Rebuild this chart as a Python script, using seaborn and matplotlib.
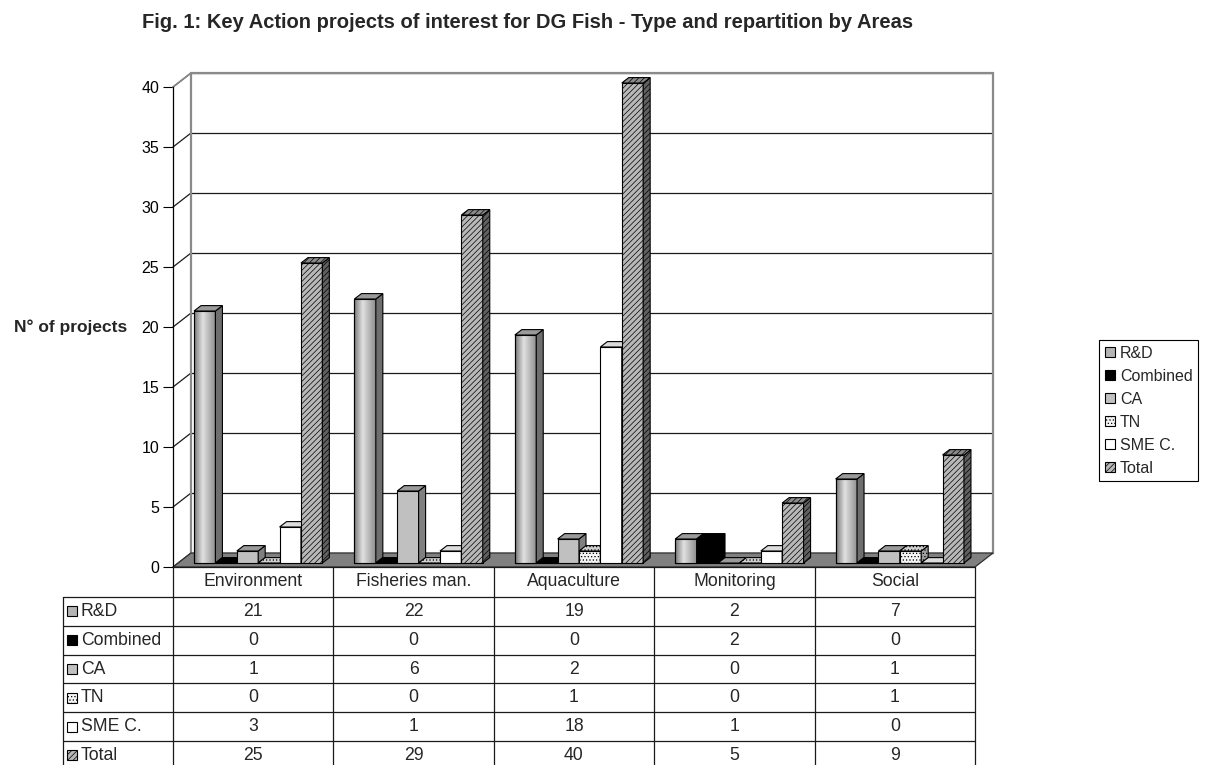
import numpy as np
import pandas as pd
import matplotlib
matplotlib.use('Agg')
import matplotlib.pyplot as plt
from matplotlib.patches import Polygon, Rectangle, Patch
from matplotlib.lines import Line2D
from matplotlib.ticker import MultipleLocator
import seaborn as sns

# ----- DATA -----
areas = ['Environment', 'Fisheries man.', 'Aquaculture', 'Monitoring', 'Social']
types = ['R&D', 'Combined', 'CA', 'TN', 'SME C.', 'Total']
rd = [21, 22, 19, 2, 7]
combined = [0, 0, 0, 2, 0]
ca = [1, 6, 2, 0, 1]
tn = [0, 0, 1, 0, 1]
sme = [3, 1, 18, 1, 0]
total = [25, 29, 40, 5, 9]
series = [rd, combined, ca, tn, sme, total]

TITLE = 'Fig. 1: Key Action projects of interest for DG Fish - Type and repartition by Areas'
YLABEL = 'N° of projects'

# ----- STYLE -----
face = {'R&D': '#b4b4b4', 'Combined': '#000000', 'CA': '#c0c0c0',
        'TN': '#f4f4f4', 'SME C.': '#ffffff', 'Total': '#b8b8b8'}
top_col = {'R&D': '#9a9a9a', 'Combined': '#000000', 'CA': '#9a9a9a',
           'TN': '#d0d0d0', 'SME C.': '#dcdcdc', 'Total': '#8a8a8a'}
side_col = {'R&D': '#6e6e6e', 'Combined': '#000000', 'CA': '#808080',
            'TN': '#a0a0a0', 'SME C.': '#a8a8a8', 'Total': '#606060'}
hatch = {'R&D': None, 'Combined': None, 'CA': None,
         'TN': '.....', 'SME C.': None, 'Total': '//////'}

sns.set_style('white')
plt.rcParams['font.family'] = ['Liberation Sans', 'DejaVu Sans']
plt.rcParams['hatch.linewidth'] = 0.5
plt.rcParams['hatch.color'] = '#202020'

W, H = 1217, 765
def fx(px):
    return px / W
def fy(py):
    return 1 - py / H

df = pd.DataFrame({
    'area': areas * len(types),
    'type': [t for t in types for _ in areas],
    'value': [v for s in series for v in s],
})

fig = plt.figure(figsize=(W / 100, H / 100), dpi=100)
X0, X1, Y0, Y40 = 173, 975, 567, 87
ax = fig.add_axes([fx(X0), fy(Y0), (X1 - X0) / W, (Y0 - Y40) / H])
ax.set_facecolor('none')

sns.barplot(data=df, x='area', y='value', hue='type', order=areas, hue_order=types,
            palette=face, saturation=1, width=0.8, edgecolor='black', linewidth=0.8,
            legend=False, ax=ax)

# pixel sizes -> data units
ppx = (X1 - X0) / 5.0
ppy = (Y0 - Y40) / 40.0
dx, dy = 18 / ppx, 14 / ppy          # depth of the walls
sx, sy = 5 / ppx, 4 / ppy            # bar front offset
bdx, bdy = 7 / ppx, 5.4 / ppy        # bar depth

# ----- WALLS / FLOOR -----
ax.set_xlim(-0.5, 4.5)
ax.set_ylim(0, 40)
ax.yaxis.set_major_locator(MultipleLocator(5))
for t in ax.get_yticks():
    if t < 0 or t > 40:
        continue
    ax.plot([-0.5 + dx, 4.5 + dx], [t + dy, t + dy], color='#1a1a1a', lw=0.9,
            clip_on=False, zorder=1)
    ax.plot([-0.5, -0.5 + dx], [t, t + dy], color='#1a1a1a', lw=0.9,
            clip_on=False, zorder=1)
ax.plot([-0.5 + dx, 4.5 + dx], [40 + dy, 40 + dy], color='#8a8a8a', lw=1.6, clip_on=False, zorder=1.1)
ax.plot([-0.5 + dx, -0.5 + dx], [dy, 40 + dy], color='#8a8a8a', lw=1.6, clip_on=False, zorder=1.1)
ax.plot([4.5 + dx, 4.5 + dx], [dy, 40 + dy], color='#8a8a8a', lw=1.6, clip_on=False, zorder=1.1)
ax.plot([-0.5, -0.5 + dx], [40, 40 + dy], color='#8a8a8a', lw=1.2, clip_on=False, zorder=1.1)
ax.add_patch(Polygon([(-0.5, 0), (4.5, 0), (4.5 + dx, dy), (-0.5 + dx, dy)],
                     closed=True, facecolor='#808080', edgecolor='#303030', lw=0.9,
                     clip_on=False, zorder=1.5))

# ----- 3D BARS -----
grad = np.interp(np.linspace(0, 1, 64), [0, 0.12, 0.4, 1], [0.42, 0.6, 0.88, 0.55])[None, :]
for hi, cont in enumerate(ax.containers):
    t = types[hi]
    z = 3 + hi * 0.1
    for p in cont:
        p.set_x(p.get_x() + sx)
        p.set_y(p.get_y() + sy)
        p.set_clip_on(False)
        p.set_zorder(z)
        if hatch[t]:
            p.set_hatch(hatch[t])
        x, y, w, h = p.get_x(), p.get_y(), p.get_width(), p.get_height()
        top = Polygon([(x, y + h), (x + w, y + h), (x + w + bdx, y + h + bdy), (x + bdx, y + h + bdy)],
                      closed=True, facecolor=top_col[t], edgecolor='black', lw=0.8,
                      hatch=hatch[t], clip_on=False, zorder=z + 0.01)
        side = Polygon([(x + w, y), (x + w + bdx, y + bdy), (x + w + bdx, y + h + bdy), (x + w, y + h)],
                       closed=True, facecolor=side_col[t], edgecolor='black', lw=0.8,
                       hatch=hatch[t], clip_on=False, zorder=z + 0.01)
        ax.add_patch(side)
        ax.add_patch(top)
        if t == 'R&D':
            im = ax.imshow(grad, cmap='gray', vmin=0, vmax=1, extent=(x, x + w, y, y + h),
                           aspect='auto', interpolation='bilinear', zorder=z + 0.002)
            im.set_clip_path(p)
            ax.add_patch(Rectangle((x, y), w, h, fill=False, edgecolor='black', lw=0.8,
                                   clip_on=False, zorder=z + 0.003))

ax.set_xlim(-0.5, 4.5)
ax.set_ylim(0, 40)
ax.set_aspect('auto')

for s in ['top', 'right', 'bottom']:
    ax.spines[s].set_visible(False)
ax.spines['left'].set_color('black')
ax.spines['left'].set_linewidth(0.9)
ax.tick_params(axis='y', left=True, length=7, width=0.8, direction='out', pad=3,
               labelsize=11.5, colors='black')
ax.tick_params(axis='x', bottom=False, labelbottom=False)
ax.set_xlabel('')
ax.set_ylabel('')

# ----- TEXT -----
fig.text(fx(528), fy(23), TITLE, ha='center', va='center', fontsize=14.5, fontweight='bold')
fig.text(fx(14), fy(327), YLABEL, ha='left', va='center', fontsize=12.5, fontweight='bold')

# ----- DATA TABLE -----
col_edges = [X0 + i * ppx for i in range(len(areas) + 1)]
LX = 62.7
HEAD_TOP, HEAD_BOT, ROW_H = 567, 597, 28.8
line_kw = dict(transform=fig.transFigure, color='#1a1a1a', lw=0.9)
fig.add_artist(Line2D([fx(X0), fx(X1)], [fy(HEAD_TOP)] * 2, **line_kw))
for k in range(len(types) + 1):
    yy = HEAD_BOT + k * ROW_H
    fig.add_artist(Line2D([fx(LX), fx(X1)], [fy(yy)] * 2, **line_kw))
for xe in col_edges:
    fig.add_artist(Line2D([fx(xe)] * 2, [fy(HEAD_TOP), fy(H + 10)], **line_kw))
fig.add_artist(Line2D([fx(LX)] * 2, [fy(HEAD_BOT), fy(H + 10)], **line_kw))

for i, a in enumerate(areas):
    cx = (col_edges[i] + col_edges[i + 1]) / 2
    fig.text(fx(cx), fy((HEAD_TOP + HEAD_BOT) / 2), a, ha='center', va='center', fontsize=12.7)

for k, (t, vals) in enumerate(zip(types, series)):
    cy = HEAD_BOT + (k + 0.5) * ROW_H
    fig.add_artist(Rectangle((fx(66.5), fy(cy + 5)), 10 / W, 10 / H, transform=fig.transFigure,
                             facecolor=face[t], edgecolor='black', lw=0.8, hatch=hatch[t]))
    fig.text(fx(81), fy(cy), t, ha='left', va='center', fontsize=12.7)
    for i, v in enumerate(vals):
        cx = (col_edges[i] + col_edges[i + 1]) / 2
        fig.text(fx(cx), fy(cy), str(v), ha='center', va='center', fontsize=12.7)

# ----- LEGEND -----
handles = [Patch(facecolor=face[t], edgecolor='black', lw=0.8, hatch=hatch[t]) for t in types]
leg = fig.legend(handles, types, loc='upper left', bbox_to_anchor=(fx(1099), fy(340)),
                 frameon=True, fancybox=False, edgecolor='black', framealpha=1,
                 fontsize=11.5, handlelength=0.65, handleheight=0.65, handletextpad=0.3,
                 labelspacing=0.5, borderpad=0.35, borderaxespad=0)
leg.get_frame().set_linewidth(0.8)

fig.savefig('out.png', dpi=100)
